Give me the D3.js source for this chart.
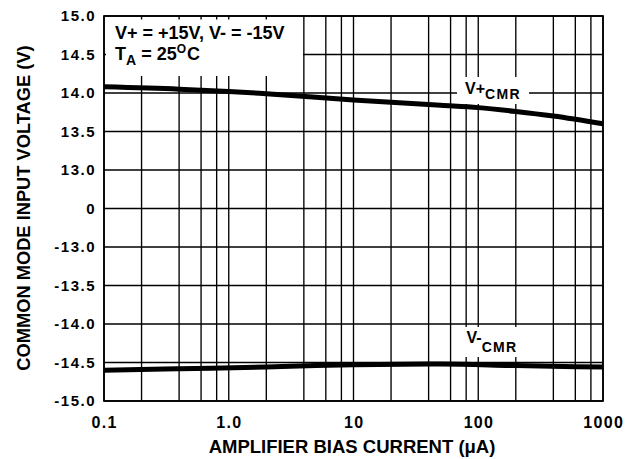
<!DOCTYPE html>
<html>
<head>
<meta charset="utf-8">
<script src="https://cdn.jsdelivr.net/npm/d3@7"></script>
<style>
  html, body { margin: 0; padding: 0; background: #fff; }
  svg text { font-family: "Liberation Sans", Arial, Helvetica, sans-serif; font-weight: bold; fill: #000; }
</style>
</head>
<body>
<svg id="chart" width="636" height="459"></svg>
<script>
// Bias current (µA) sample points and common-mode range limits (V)
const biasPlus  = [0.1, 0.4, 1, 2, 10, 50, 100, 200, 400, 1000];
const vPlusCMR  = [14.08, 14.05, 14.02, 13.99, 13.91, 13.84, 13.81, 13.76, 13.70, 13.60];
const biasMinus = [0.1, 0.4, 2, 5, 10, 50, 200, 1000];
const vMinusCMR = [-14.60, -14.58, -14.56, -14.54, -14.53, -14.52, -14.54, -14.56];

// Axis ticks
const xTickValues = [0.1, 1, 10, 100, 1000];
const xTickLabels = ["0.1", "1.0", "10", "100", "1000"];
const xGridValues = [0.1, 0.2, 0.4, 0.6, 0.8, 1, 2, 4, 6, 8, 10, 20, 40, 60, 80,
                     100, 200, 400, 600, 800, 1000];
const yTickValues = [15, 14.5, 14, 13.5, 13, 0, -13, -13.5, -14, -14.5, -15];
const yTickLabels = ["15.0", "14.5", "14.0", "13.5", "13.0", "0",
                     "-13.0", "-13.5", "-14.0", "-14.5", "-15.0"];

const svg = d3.select("#chart");
const plotLeft = 104, plotRight = 603, plotTop = 16, plotBottom = 401;
const rowH = (plotBottom - plotTop) / 10;

const x = d3.scaleLog().domain([0.1, 1000]).range([plotLeft, plotRight]);
// Broken axis: 15..13 and -13..-15 at 0.5 V per row, with a single row for 0
const y = d3.scaleLinear()
  .domain([15, 13, 0, -13, -15])
  .range([plotTop, plotTop + 4 * rowH, plotTop + 5 * rowH, plotTop + 6 * rowH, plotTop + 10 * rowH]);

// Grid
const grid = svg.append("g").attr("stroke", "#000").attr("stroke-width", 1.35);
grid.selectAll("line.v").data(xGridValues).join("line")
  .attr("class", "v")
  .attr("x1", d => x(d)).attr("x2", d => x(d))
  .attr("y1", plotTop).attr("y2", plotBottom);
grid.selectAll("line.h").data(yTickValues).join("line")
  .attr("class", "h")
  .attr("x1", plotLeft).attr("x2", plotRight)
  .attr("y1", d => y(d)).attr("y2", d => y(d));

// White label panels sitting over the grid
const panels = [
  { x0: 106, x1: 303, y0: 19.5, y1: 76 },
  { x0: 457, x1: 529, y0: 77, y1: 104 },
  { x0: 455, x1: 530, y0: 327, y1: 357 }
];
svg.append("g").selectAll("rect").data(panels).join("rect")
  .attr("x", d => d.x0).attr("y", d => d.y0)
  .attr("width", d => d.x1 - d.x0).attr("height", d => d.y1 - d.y0)
  .attr("fill", "#fff");

// Frame
svg.append("rect")
  .attr("x", plotLeft).attr("y", plotTop)
  .attr("width", plotRight - plotLeft).attr("height", plotBottom - plotTop)
  .attr("fill", "none").attr("stroke", "#000").attr("stroke-width", 1.7);

// Curves
const line = d3.line().x(d => x(d[0])).y(d => y(d[1])).curve(d3.curveMonotoneX);
svg.append("path")
  .datum(d3.zip(biasPlus, vPlusCMR))
  .attr("d", line)
  .attr("fill", "none").attr("stroke", "#000").attr("stroke-width", 5);
svg.append("path")
  .datum(d3.zip(biasMinus, vMinusCMR))
  .attr("d", line)
  .attr("fill", "none").attr("stroke", "#000").attr("stroke-width", 5);

// Y tick labels
svg.append("g").selectAll("text").data(yTickValues).join("text")
  .attr("x", 96).attr("y", d => y(d) + 5.3)
  .attr("text-anchor", "end")
  .style("font-size", "15px").style("letter-spacing", "1.5px")
  .text((d, i) => yTickLabels[i]);

// X tick labels
svg.append("g").selectAll("text").data(xTickValues).join("text")
  .attr("x", d => x(d) + 0.7).attr("y", 428)
  .attr("text-anchor", "middle")
  .style("font-size", "16px").style("letter-spacing", "1.3px")
  .text((d, i) => xTickLabels[i]);

// Axis titles
svg.append("text")
  .attr("x", 352).attr("y", 453)
  .attr("text-anchor", "middle")
  .style("font-size", "18.5px")
  .text("AMPLIFIER BIAS CURRENT (\u03BCA)");
svg.append("text")
  .attr("transform", "translate(29.5,208) rotate(-90)")
  .attr("text-anchor", "middle")
  .style("font-size", "18.3px")
  .text("COMMON MODE INPUT VOLTAGE (V)");

// Conditions
svg.append("text").attr("x", 115).attr("y", 38.5)
  .style("font-size", "18px")
  .text("V+ = +15V, V- = -15V");
const cond = svg.append("text").attr("x", 115).attr("y", 60).style("font-size", "18px");
cond.append("tspan").text("T");
cond.append("tspan").attr("dy", 5).style("font-size", "14px").text("A");
cond.append("tspan").attr("dy", -5).text(" = 25");
cond.append("tspan").attr("dy", -7).style("font-size", "12px").style("letter-spacing", "1px").text("O");
cond.append("tspan").attr("dy", 7).text("C");

// Series labels
const lp = svg.append("text").attr("x", 465).attr("y", 94).style("font-size", "16px");
lp.append("tspan").text("V+");
lp.append("tspan").attr("dy", 5.3).style("font-size", "14px").style("letter-spacing", "1.3px").text("CMR");

const lm = svg.append("text").attr("x", 466.5).attr("y", 343.3).style("font-size", "16px");
lm.append("tspan").text("V-");
lm.append("tspan").attr("dy", 9).style("font-size", "14px").style("letter-spacing", "1.3px").text("CMR");
</script>
</body>
</html>
